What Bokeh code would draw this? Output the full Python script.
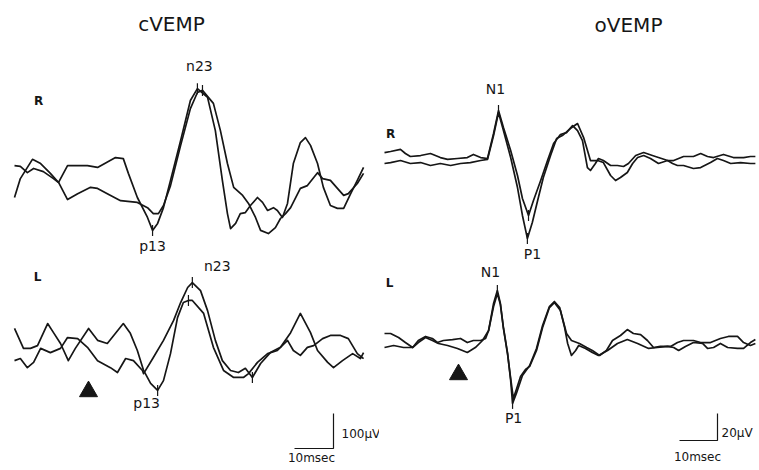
import numpy as np
from bokeh.plotting import figure
from bokeh.models import Range1d
from bokeh.layouts import row
from bokeh.core.properties import value
from bokeh.embed import file_html
from bokeh.resources import INLINE

# ---------------- data (time in ms, amplitude in µV; positive plotted downward) -------------
# cVEMP, right side (R)
cR1_t = [0, 1.5, 4.6, 6.7, 9.2, 11.3, 13.6, 18.7, 21.3, 25.9, 27.9, 29.2, 31.5, 34.1, 35.4, 36.7, 38.2, 40.0,
         42.6, 45.1, 46.9, 49.5, 51.5, 53.3, 54.6, 55.4, 56.7, 57.9, 59.2, 60.5, 62.3, 63.6, 64.9, 66.4, 67.4,
         68.7, 70.0, 71.5, 73.3, 74.6, 75.9, 77.7, 79.2, 81.0, 82.8, 84.4, 86.2, 87.9, 89.5]
cR1_v = [20, -34, -89, -77, -49, -23, -71, -71, -66, -94, -91, -49, 20, 77, 114, 94, 49, -29,
         -143, -257, -291, -266, -171, -29, 66, 109, 94, 66, 63, 43, 20, 34, 57, 49, 57,
         77, 37, -77, -137, -151, -129, -77, -9, 43, 51, 51, 9, -29, -66]
cR2_t = [0, 1.5, 3.3, 4.9, 7.4, 10.0, 11.3, 13.6, 16.2, 19.5, 21.3, 23.8, 27.2, 31.5, 34.1, 35.6, 36.9, 38.2,
         40.0, 42.6, 45.1, 46.9, 48.2, 51.0, 52.8, 54.6, 56.2, 58.5, 60.0, 61.8, 63.1, 65.1, 66.9, 68.2, 69.5,
         70.8, 73.3, 75.1, 77.7, 79.0, 81.0, 82.8, 84.4, 85.6, 87.9, 89.5]
cR2_v = [-71, -69, -51, -63, -54, -34, -23, 26, 9, -9, -6, 9, 29, 34, 49, 66, 66, 43,
         -14, -129, -234, -280, -286, -249, -171, -77, -9, 14, 37, 77, 114, 123, 106, 80, 66,
         49, -6, -14, -51, -34, -29, -6, 14, 9, -20, -49]
# cVEMP, left side (L)
cL1_t = [0, 2.3, 4.1, 5.9, 8.5, 10.0, 11.8, 13.8, 15.6, 19.0, 21.3, 23.8, 27.9, 29.7, 31.5, 33.1, 34.9, 36.7,
         38.2, 40.0, 41.8, 43.3, 44.6, 45.6, 48.5, 51.0, 53.6, 56.2, 58.7, 60.0, 62.3, 64.9, 67.4, 70.0, 71.5,
         73.3, 75.1, 76.7, 79.0, 81.0, 83.6, 85.6, 87.9, 89.5]
cL1_v = [-63, -6, -6, -14, -77, -51, -20, 29, -6, -63, -29, -20, -77, -49, 0, 57, 94, 114,
         86, 9, -94, -137, -143, -143, -106, -9, 57, 77, 77, 66, 34, 9, 0, -29, 0,
         14, -9, -14, -34, -43, -43, -34, 9, 23]
cL2_t = [0, 1.5, 3.3, 4.9, 6.7, 9.2, 11.8, 13.6, 16.2, 18.7, 21.3, 24.6, 26.4, 28.5, 30.5, 32.8, 33.1, 35.6,
         38.2, 40.8, 42.6, 44.4, 45.6, 47.7, 49.5, 51.5, 53.3, 55.4, 57.4, 59.2, 61.0, 63.1, 65.6, 68.2, 70.8,
         73.3, 75.9, 77.7, 80.3, 81.8, 84.1, 86.7, 88.7, 89.5]
cL2_v = [29, 23, 49, 34, -6, 6, -6, -37, -34, -9, 29, 49, 63, 23, 29, 57, 66, 20,
         -29, -86, -137, -180, -194, -171, -114, -29, 29, 57, 63, 51, 77, 37, 6, -9, -51,
         -106, -51, 0, 34, 49, 29, 9, 23, 6]

# oVEMP, right side (R)
oR1_t = [0, 1.6, 4.2, 5.5, 6.8, 9.5, 12.1, 14.7, 16.6, 19.2, 21.8, 23.4, 25.3, 27.1, 28.7, 30.0, 31.3, 33.2,
         35.0, 36.3, 37.9, 39.2, 41.1, 42.9, 44.5, 46.3, 47.9, 49.5, 50.8, 52.1, 53.4, 54.2, 55.5, 56.3, 57.6,
         59.5, 61.3, 62.9, 64.2, 66.1, 68.2, 70.5, 72.1, 74.5, 76.1, 78.7, 81.3, 83.2, 85.0, 86.6, 89.2, 91.8,
         94.5, 96.3, 97.6]
oR1_v = [-4.4, -5.2, -6.7, -3.7, -1.5, -2.2, -3.7, -0.7, 0.7, 0, -0.7, -3.0, -0.7, 0, -18.5, -35.5, -22.9, -5.9,
         12.6, 29.6, 42.2, 31.1, 16.3, 1.5, -11.1, -17.8, -19.2, -24.4, -20.7, -13.3, 6.7, 8.9, 3.7, 0, 1.5,
         5.2, 5.2, 5.9, 3.7, -2.2, -4.4, -2.2, -0.7, 1.5, 1.5, -1.5, -1.5, -3.7, -1.5, -0.7, -3.0, -0.7,
         -0.7, -1.5, -1.5]
oR2_t = [0, 1.6, 4.2, 6.8, 9.5, 12.1, 14.7, 17.4, 20.0, 22.6, 25.3, 27.1, 28.7, 30.0, 31.3, 33.2, 35.0, 36.3,
         37.6, 38.9, 40.3, 41.8, 43.7, 45.3, 46.8, 48.9, 50.8, 52.4, 54.2, 56.1, 57.6, 59.5, 60.8, 62.1, 63.9,
         65.3, 66.6, 68.2, 70.0, 72.1, 74.5, 75.8, 77.1, 78.7, 81.3, 83.2, 85.8, 87.6, 89.2, 91.1, 93.7, 96.3,
         97.6]
oR2_v = [3.7, 3.0, 1.5, 3.7, 3.0, 5.2, 3.7, 5.2, 3.7, 3.0, 1.5, 0.7, -17.0, -34.0, -20.7, -0.7, 21.5, 42.2,
         59.2, 47.4, 31.1, 14.1, -2.2, -14.8, -17.0, -22.2, -25.9, -15.5, 1.5, 1.5, 3.0, 12.6, 16.3, 14.1, 10.4,
         3.7, -0.7, -2.2, 0, 3.7, 1.5, 3.7, 5.2, 5.2, 7.4, 6.7, 3.0, 0, 1.5, 3.7, 3.0, 3.7, 3.7]
# oVEMP, left side (L)
oL1_t = [0, 1.6, 3.7, 5.5, 7.4, 8.9, 10.8, 12.6, 13.9, 15.5, 17.9, 20.0, 21.8, 23.4, 25.3, 26.6, 27.4, 28.7,
         29.7, 30.5, 31.3, 32.4, 33.2, 33.7, 34.7, 36.3, 38.2, 40.0, 41.6, 43.4, 44.7, 46.1, 47.4, 48.2, 49.2,
         50.3, 51.1, 52.9, 54.7, 56.3, 58.7, 61.3, 63.9, 66.6, 69.5, 71.8, 74.5, 76.1, 77.4, 79.2, 81.3, 83.7,
         85.0, 86.6, 88.4, 90.3, 92.9, 94.5, 96.3, 97.6]
oL1_v = [-5.2, -5.2, -2.2, 1.5, 5.2, 0, -3.0, -1.5, 1.5, 0, -0.7, -1.5, 1.5, 0, 0, -1.5, -7.4, -27.4,
         -37.0, -27.4, -9.6, 9.6, 29.6, 46.6, 39.2, 25.9, 18.5, 5.9, -11.1, -25.2, -28.9, -24.4, -9.6, 2.2, 11.1,
         7.4, 3.7, 5.9, 8.9, 11.1, 7.4, 2.2, -0.7, 2.2, 5.9, 5.2, 4.4, 5.2, 7.4, 4.4, 1.5, 2.2,
         5.9, 5.2, 2.2, 5.2, 5.9, 5.9, 1.5, -0.7]
oL2_t = [0, 2.4, 5.0, 7.4, 8.9, 10.8, 12.6, 14.2, 16.6, 19.2, 21.8, 23.9, 25.8, 27.4, 28.7, 29.7, 30.5, 31.3,
         32.4, 33.2, 33.9, 34.7, 35.8, 37.1, 38.2, 40.0, 41.6, 43.4, 44.7, 46.3, 47.9, 49.2, 51.3, 53.2, 54.7,
         56.6, 58.4, 60.0, 62.1, 63.9, 65.5, 67.4, 69.2, 70.8, 72.6, 75.3, 77.1, 78.7, 81.3, 83.2, 85.8, 88.4,
         90.5, 92.9, 94.5, 96.3, 97.6]
oL2_v = [5.2, 3.7, 5.2, 5.2, 1.5, -2.2, 0, 2.2, 3.7, 5.9, 8.9, 5.2, 0, -7.4, -25.2, -34.8, -26.6, -8.9,
         10.4, 28.1, 42.9, 36.3, 26.6, 21.5, 19.2, 7.4, -9.6, -24.4, -28.1, -22.2, -5.2, 0, 2.2, 5.2, 7.4,
         11.1, 7.4, 0, -3.7, -8.1, -5.2, -4.4, 0, 5.2, 4.4, 4.4, 1.5, 0, 0, 1.5, 1.5, -1.5,
         -3.0, -3.0, 1.5, 3.7, 2.2]

scale_time_ms = 10
c_scale_uv = 100
o_scale_uv = 20

# ---------------- layout ----------------
FONT = value("DejaVu Sans")
INK = "#161616"
H = 470
W_L, W_R = 379, 380

# cVEMP panel geometry (px per unit) and offsets
C_PX_MS, C_PX_UV = 3.9, 0.35
C_X0 = -14 / C_PX_MS
C_Y_TOP = -190 / C_PX_UV
C_L_OFF = 160 / C_PX_UV

# oVEMP panel geometry
O_PX_MS, O_PX_UV = 3.8, 1.35
O_X0 = -5 / O_PX_MS
O_Y_TOP = -158 / O_PX_UV
O_L_OFF = 182 / O_PX_UV


def cpos(X, Y):
    return C_X0 + X / C_PX_MS, C_Y_TOP + Y / C_PX_UV


def opos(X, Y):
    return O_X0 + (X - W_L) / O_PX_MS, O_Y_TOP + Y / O_PX_UV


def make_fig(w, x0, pxms, ytop, pxuv):
    p = figure(width=w, height=H, output_backend="svg", toolbar_location=None,
               x_range=Range1d(x0, x0 + w / pxms), y_range=Range1d(ytop + H / pxuv, ytop),
               x_axis_location=None, y_axis_location=None, min_border=0)
    p.grid.visible = False
    p.outline_line_color = None
    p.background_fill_color = "white"
    p.border_fill_color = "white"
    return p


def txt(p, x, y, s, size, align="center", bold=False, dx=0, dy=0):
    p.text(x=[x], y=[y], text=[s], text_font=FONT, text_font_size=f"{size}px",
           text_align=align, text_baseline="middle", text_color=INK,
           text_font_style="bold" if bold else "normal", x_offset=dx, y_offset=dy)


def trace(p, t, v, off=0.0):
    p.line(t, np.asarray(v) + off, line_color=INK, line_width=1.7, line_join="round")


def tick(p, t, v, off, mode):
    arr = np.asarray(v)
    i = int(np.argmin(arr)) if mode == "min" else int(np.argmax(arr))
    p.scatter([t[i]], [arr[i] + off], marker="dash", angle=np.pi / 2, size=11,
              line_color=INK, line_width=1.2)
    return t[i], arr[i] + off


def label_at(p, t, v, off, mode, s, dx, dy, size=14):
    x, y = tick(p, t, v, off, mode)
    txt(p, x, y, s, size, dx=dx, dy=dy)


# ---------------- cVEMP ----------------
pc = make_fig(W_L, C_X0, C_PX_MS, C_Y_TOP, C_PX_UV)
for t, v in [(cR1_t, cR1_v), (cR2_t, cR2_v)]:
    trace(pc, t, v)
for t, v in [(cL1_t, cL1_v), (cL2_t, cL2_v)]:
    trace(pc, t, v, C_L_OFF)

label_at(pc, cR1_t, cR1_v, 0, "min", "n23", 2, -23)
tick(pc, cR2_t, cR2_v, 0, "min")
label_at(pc, cR1_t, cR1_v, 0, "max", "p13", 0, 16)
label_at(pc, cL2_t, cL2_v, C_L_OFF, "min", "n23", 25, -17)
tick(pc, cL1_t, cL1_v, C_L_OFF, "min")
label_at(pc, cL1_t, cL1_v, C_L_OFF, "max", "p13", -11, 13)
tick(pc, cL2_t, cL2_v, C_L_OFF, "max")

txt(pc, *cpos(171, 23), "cVEMP", 20)
txt(pc, *cpos(38, 100), "R", 12, bold=True)
txt(pc, *cpos(37, 276), "L", 12, bold=True)
tx, ty = cpos(88, 391)
pc.scatter([tx], [ty], marker="triangle", size=18, fill_color=INK, line_color=INK)

cx, cy = cpos(333, 448)
pc.line([cx - scale_time_ms, cx, cx], [cy, cy, cy - c_scale_uv], line_color=INK, line_width=1.2)
txt(pc, *cpos(341, 433), "100µV", 12, align="left")
txt(pc, *cpos(311, 457), "10msec", 12)

# ---------------- oVEMP ----------------
po = make_fig(W_R, O_X0, O_PX_MS, O_Y_TOP, O_PX_UV)
for t, v in [(oR1_t, oR1_v), (oR2_t, oR2_v)]:
    trace(po, t, v)
for t, v in [(oL1_t, oL1_v), (oL2_t, oL2_v)]:
    trace(po, t, v, O_L_OFF)

label_at(po, oR1_t, oR1_v, 0, "min", "N1", -3, -22)
label_at(po, oR2_t, oR2_v, 0, "max", "P1", 5, 16)
tick(po, oR1_t, oR1_v, 0, "max")
label_at(po, oL1_t, oL1_v, O_L_OFF, "min", "N1", -7, -19)
label_at(po, oL1_t, oL1_v, O_L_OFF, "max", "P1", 1, 15)

txt(po, *opos(628, 24), "oVEMP", 20)
txt(po, *opos(390, 133), "R", 12, bold=True)
txt(po, *opos(389, 282), "L", 12, bold=True)
tx, ty = opos(458, 374)
po.scatter([tx], [ty], marker="triangle", size=18, fill_color=INK, line_color=INK)

ox, oy = opos(717, 440)
po.line([ox - scale_time_ms, ox, ox], [oy, oy, oy - o_scale_uv], line_color=INK, line_width=1.2)
txt(po, *opos(721, 432), "20µV", 12, align="left")
txt(po, *opos(697, 456), "10msec", 12)

layout = row(pc, po)
open("out.html", "w").write(file_html(layout, INLINE))
